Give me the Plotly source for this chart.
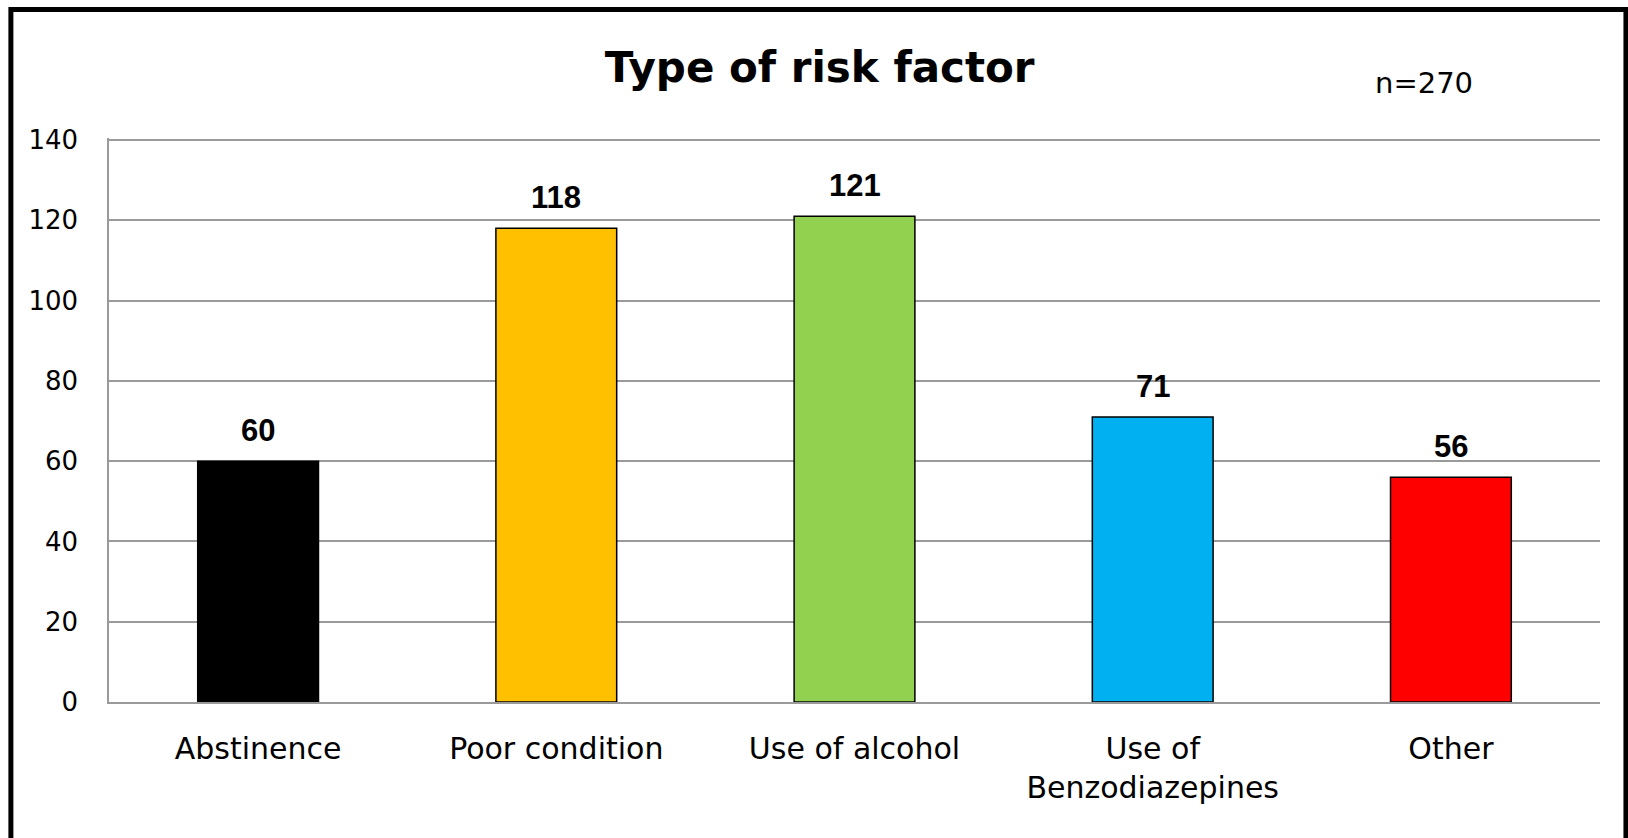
import plotly.graph_objects as go

# data
categories = ["Abstinence", "Poor condition", "Use of alcohol", "Use of<br>Benzodiazepines", "Other"]
counts = [60, 118, 121, 71, 56]
bar_colors = ["#000000", "#FFC000", "#92D050", "#00B0F0", "#FF0000"]
y_ticks = [0, 20, 40, 60, 80, 100, 120, 140]
n_total = 270

GRID = "#9a9a9a"

fig = go.Figure()

fig.add_trace(go.Bar(
    x=categories,
    y=counts,
    marker=dict(color=bar_colors, line=dict(color="#000000", width=1.5)),
    width=0.405,
    hoverinfo="x+y",
))

# value labels above bars
for cat, val in zip(categories, counts):
    fig.add_annotation(
        x=cat, y=val, text=f"<b>{val}</b>",
        showarrow=False, yanchor="bottom", yshift=11,
        font=dict(family="Liberation Sans, Arial", size=31, color="#000000"),
    )

fig.add_annotation(
    x=0.882, y=1.098, xref="paper", yref="paper",
    text=f"n={n_total}", showarrow=False,
    xanchor="center", yanchor="middle",
    font=dict(family="DejaVu Sans", size=29, color="#000000"),
)

# outer frame
fig.add_shape(
    type="rect", xref="paper", yref="paper",
    x0=-0.0658, x1=1.0174, y0=-0.35, y1=1.228,
    line=dict(color="#000000", width=5), fillcolor="rgba(0,0,0,0)",
    layer="above",
)

fig.update_layout(
    width=1628,
    height=838,
    title=dict(
        text="<b>Type of risk factor</b>",
        x=0.5035, xref="container", xanchor="center",
        y=1 - 67 / 838, yref="container", yanchor="middle",
        font=dict(family="DejaVu Sans", size=42, color="#000000"),
    ),
    plot_bgcolor="#ffffff",
    paper_bgcolor="#ffffff",
    showlegend=False,
    margin=dict(l=109, r=28, t=138, b=136),
    font=dict(family="DejaVu Sans", color="#000000"),
)

fig.update_xaxes(
    showgrid=False,
    showline=True, linecolor=GRID, linewidth=1.5,
    ticks="", tickfont=dict(size=30, color="#000000"),
    ticklabelstandoff=19,
)

fig.update_yaxes(
    range=[0, 140.5],
    tickvals=y_ticks,
    showgrid=True, gridcolor=GRID, gridwidth=1.5,
    showline=True, linecolor=GRID, linewidth=1.5,
    zeroline=False,
    ticks="", tickfont=dict(size=26, color="#000000"),
    ticklabelstandoff=24,
)

fig.write_html(
    "out.html",
    config={"displayModeBar": False},
    post_script="document.body.style.margin='0';",
)
